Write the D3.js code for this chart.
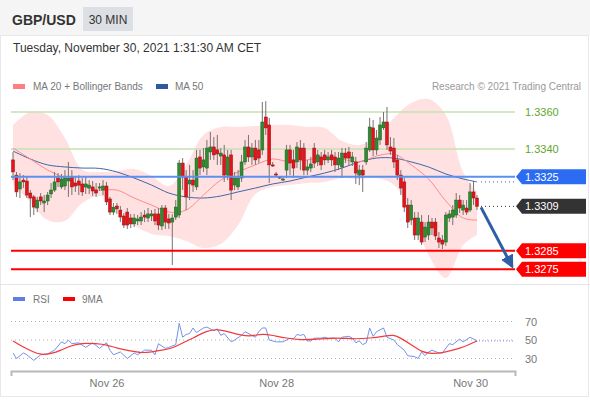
<!DOCTYPE html>
<html>
<head>
<meta charset="utf-8">
<script src="https://cdn.jsdelivr.net/npm/d3@7"></script>
<style>
  body { margin: 0; background: #fff; }
  svg { display: block; font-family: "Liberation Sans", Arial, sans-serif; }
</style>
</head>
<body>
<svg id="chart" width="590" height="400"></svg>
<script>
// 30 min candles, [open, high, low, close]
const ohlc = [
  [1.33341,1.33384,1.33232,1.33276],[1.33259,1.33276,1.33141,1.33168],[1.33184,1.3327,1.33135,1.33222],
  [1.33232,1.33259,1.33189,1.33222],[1.33227,1.33254,1.33135,1.33151],[1.33162,1.33178,1.33032,1.33135],
  [1.33141,1.33151,1.33043,1.33086],[1.33081,1.33141,1.33059,1.33124],[1.33141,1.33162,1.33097,1.33119],
  [1.33108,1.33151,1.33059,1.33119],[1.33119,1.33168,1.33097,1.33151],[1.33157,1.33216,1.33135,1.33178],
  [1.33178,1.33276,1.33168,1.33222],[1.33243,1.3327,1.33195,1.33222],[1.33195,1.33265,1.33184,1.33238],
  [1.3320,1.33286,1.33178,1.33243],[1.33227,1.3333,1.33141,1.33243],[1.33249,1.33286,1.33151,1.33195],
  [1.33216,1.33254,1.33168,1.3320],[1.33227,1.33259,1.33151,1.33205],[1.33211,1.33243,1.33146,1.33168],
  [1.33195,1.33249,1.33157,1.33211],[1.33189,1.33232,1.33157,1.33205],[1.33195,1.33227,1.33146,1.33173],
  [1.33178,1.33216,1.33141,1.33162],[1.33189,1.33216,1.33173,1.33195],[1.33178,1.33232,1.33151,1.3320],
  [1.3320,1.33222,1.33097,1.33114],[1.3313,1.33141,1.33043,1.33059],[1.33059,1.33108,1.33043,1.33086],
  [1.33092,1.33108,1.33049,1.33076],[1.3307,1.33092,1.33005,1.33032],[1.33038,1.33054,1.32973,1.32989],
  [1.33059,1.33081,1.32968,1.32989],[1.33027,1.33049,1.32973,1.32995],[1.32995,1.33049,1.32978,1.33027],
  [1.33011,1.33043,1.32989,1.33022],[1.33011,1.33059,1.32989,1.33032],[1.33043,1.3307,1.33005,1.33032],
  [1.33027,1.33081,1.33005,1.33049],[1.33038,1.3307,1.33011,1.33049],[1.33049,1.33076,1.32989,1.33011],
  [1.33049,1.33081,1.32962,1.32989],[1.32984,1.33097,1.32962,1.33081],[1.33081,1.33097,1.32968,1.33005],
  [1.33022,1.33049,1.32968,1.3300],[1.33005,1.33049,1.32773,1.33027],[1.33032,1.33124,1.33016,1.33086],
  [1.33043,1.33341,1.33027,1.33324],[1.33324,1.33351,1.33178,1.33249],[1.33249,1.33286,1.3307,1.33141],
  [1.33211,1.33314,1.33124,1.33232],[1.33232,1.33286,1.33168,1.33205],[1.33195,1.33395,1.33178,1.33351],
  [1.33357,1.33395,1.33259,1.33297],[1.33303,1.33405,1.33276,1.33341],[1.33297,1.33449,1.33259,1.33405],
  [1.33384,1.33492,1.33341,1.33411],[1.33411,1.33465,1.33341,1.33368],[1.33395,1.33476,1.33314,1.33373],
  [1.33362,1.33405,1.33314,1.33378],[1.33368,1.33422,1.33222,1.33259],[1.33259,1.33395,1.33232,1.33357],
  [1.33368,1.33395,1.33124,1.33178],[1.33205,1.33276,1.33178,1.33243],[1.33195,1.33286,1.33178,1.33243],
  [1.33243,1.33368,1.33222,1.3333],[1.3333,1.33449,1.33314,1.33411],[1.33411,1.33476,1.3333,1.33357],
  [1.33357,1.33432,1.33314,1.33405],[1.33405,1.33449,1.33314,1.33341],[1.33395,1.33449,1.33324,1.33351],
  [1.33395,1.33654,1.33368,1.33546],[1.33573,1.33659,1.33476,1.33514],[1.3353,1.33568,1.33216,1.33314],
  [1.33314,1.3333,1.33303,1.33308],[1.33265,1.33276,1.33254,1.33259],[1.33249,1.33254,1.33238,1.33243],
  [1.33232,1.33243,1.33227,1.33238],[1.33286,1.33422,1.33243,1.33395],[1.33395,1.33422,1.33259,1.33324],
  [1.33341,1.33395,1.33243,1.33297],[1.3333,1.33438,1.33297,1.33411],[1.33405,1.33449,1.33286,1.33341],
  [1.33405,1.33432,1.33259,1.33286],[1.33286,1.33341,1.33259,1.33303],[1.33297,1.33357,1.33276,1.33319],
  [1.33405,1.33432,1.33297,1.33324],[1.3333,1.33395,1.33308,1.33368],[1.33357,1.33384,1.33286,1.33314],
  [1.33368,1.33395,1.33314,1.33341],[1.33341,1.33384,1.33324,1.33357],[1.33368,1.33395,1.33308,1.33341],
  [1.33357,1.33384,1.33276,1.33314],[1.33314,1.33384,1.33286,1.33351],[1.33303,1.33405,1.33243,1.33378],
  [1.33378,1.33405,1.33324,1.33351],[1.33384,1.33411,1.33314,1.33351],[1.3333,1.33384,1.33308,1.33357],
  [1.3333,1.33357,1.33211,1.3327],[1.33259,1.33314,1.33205,1.33286],[1.33286,1.33314,1.33168,1.33259],
  [1.3333,1.33438,1.33314,1.33405],[1.33395,1.33568,1.33384,1.33519],[1.33514,1.33557,1.33362,1.33395],
  [1.33395,1.33503,1.33368,1.33459],[1.33449,1.33573,1.33422,1.3353],[1.33514,1.3360,1.33503,1.33546],
  [1.33546,1.33627,1.33395,1.33422],[1.33411,1.33465,1.33368,1.33389],[1.33405,1.33459,1.33297,1.3333],
  [1.33341,1.33368,1.33232,1.33259],[1.33259,1.33286,1.33151,1.33189],[1.33222,1.33243,1.33059,1.33086],
  [1.33097,1.33135,1.32973,1.33005],[1.33016,1.33124,1.32989,1.33097],[1.33027,1.33059,1.32908,1.32935],
  [1.32935,1.33059,1.32908,1.33027],[1.33005,1.33043,1.32881,1.32897],[1.32924,1.33005,1.32897,1.32978],
  [1.32935,1.33043,1.32908,1.33005],[1.33005,1.33027,1.32935,1.32973],[1.33005,1.33027,1.32908,1.3293],
  [1.32919,1.32951,1.32865,1.32897],[1.32908,1.32935,1.32859,1.32886],[1.32897,1.33059,1.32876,1.33043],
  [1.33027,1.3307,1.33005,1.33049],[1.33032,1.33097,1.32989,1.3307],[1.33043,1.33162,1.33027,1.33124],
  [1.33124,1.33151,1.33054,1.33081],[1.3307,1.33124,1.33043,1.33097],[1.33081,1.33124,1.33043,1.33059],
  [1.3307,1.33216,1.33059,1.33168],[1.33168,1.33227,1.33097,1.33135],[1.33135,1.33151,1.3307,1.3309]
];

// indicator samples (candle index -> value)
const maIdx = [0,5,10,15,20,25,30,35,40,45,50,55,60,65,70,75,80,85,90,95,100,105,110,115,120,125,130,134];
const ma20 = [1.33405,1.33346,1.33286,1.33243,1.3320,1.33178,1.33178,1.33135,1.33097,1.33059,1.3307,1.33151,1.33232,1.33276,
  1.33314,1.33346,1.3333,1.33341,1.33357,1.33346,1.3333,1.33362,1.33373,1.33314,1.33238,1.33119,1.33027,1.33016];
const ma50 = [1.33389,1.33346,1.33314,1.33303,1.33297,1.33295,1.33276,1.33243,1.33205,1.33162,1.33141,1.33135,1.33146,1.33168,
  1.33189,1.33211,1.33227,1.33249,1.3327,1.33297,1.3333,1.33351,1.33351,1.3333,1.33303,1.33265,1.33238,1.33222];
const bbUpper = [1.3353,1.3360,1.33584,1.33459,1.33286,1.33276,1.33281,1.33292,1.33254,1.3320,1.33314,1.33476,1.33519,1.33519,
  1.33524,1.3353,1.3353,1.33519,1.33514,1.33443,1.33422,1.33465,1.33568,1.33649,1.3367,1.33584,1.33276,1.33168];
const bbLower = [1.33205,1.33114,1.33016,1.33011,1.33108,1.33146,1.33097,1.32989,1.32941,1.3293,1.32903,1.32865,1.32886,1.32989,
  1.33157,1.33195,1.33205,1.33216,1.33222,1.33243,1.33238,1.33243,1.33205,1.33059,1.32827,1.32703,1.32881,1.32935];

const rsi = [[0,36],[1,30],[3,36],[4,34],[6,28],[8,34],[10,35],[12,39],[14,48],[15,46],[16,50],[17,46],[19,47],[21,42],
  [23,47],[25,41],[27,47],[28,39],[29,34],[31,37],[33,30],[35,36],[36,34],[38,39],[40,39],[41,34],[42,46],[44,41],[45,42],
  [47,45],[48,68],[49,53],[50,56],[51,57],[52,63],[53,58],[55,63],[56,64],[58,60],[59,62],[60,55],[61,57],[63,48],[64,50],
  [66,55],[67,59],[69,55],[70,53],[71,59],[72,63],[73,63],[74,50],[76,48],[78,48],[80,52],[81,51],[82,56],[83,55],[84,56],
  [85,49],[86,49],[87,52],[89,52],[90,53],[91,52],[93,52],[94,48],[95,53],[97,54],[98,52],[99,47],[100,49],[101,45],[102,47],
  [103,63],[104,54],[105,59],[107,63],[108,53],[110,50],[111,45],[113,39],[114,33],[116,32],[117,30],[118,37],[119,33],
  [120,37],[121,39],[123,36],[124,36],[126,46],[127,45],[129,51],[130,48],[132,53],[134,49]];
const rsiMA = [[0,49],[3,42],[6,37],[8,34],[11,35],[14,39],[16,43],[20,47],[24,46],[27,45],[30,41],[34,38],[37,36],[40,37],
  [43,39],[46,41],[49,47],[52,52],[56,60],[59,62],[63,58],[66,55],[69,54],[72,57],[75,55],[79,52],[83,50],[88,51],[92,52],
  [95,52],[99,51],[103,52],[107,54],[110,56],[112,52],[115,45],[118,37],[121,35],[124,36],[127,39],[130,42],[134,49]];

const resistances = [1.3360, 1.3340];
const pivot = 1.3325;
const supports = [1.3285, 1.3275];
const rsiLevels = [70, 50, 30];
const tickIdx = [27, 76, 132];
const tickLabels = ["Nov 26", "Nov 28", "Nov 30"];

const svg = d3.select("#chart");
const left = 11, right = 515;

const x = d3.scaleLinear().domain([0, ohlc.length - 1]).range([13, 477]);
const y = d3.scaleLinear().domain([1.3275, 1.3360]).range([269.25, 112]);
const yR = d3.scaleLinear().domain([30, 70]).range([358.5, 321.5]);
const fmt = d3.format(".4f");

// header
svg.append("rect").attr("x", 0).attr("y", 0).attr("width", 590).attr("height", 35).attr("fill", "#f5f5f5");
svg.append("rect").attr("x", 0.5).attr("y", 35.5).attr("width", 588).attr("height", 361)
  .attr("fill", "none").attr("stroke", "#e8e8e8");
svg.append("text").attr("x", 12).attr("y", 24.5).attr("font-size", 14).attr("font-weight", "bold")
  .attr("fill", "#333").text("GBP/USD");
svg.append("rect").attr("x", 83).attr("y", 7).attr("width", 50).attr("height", 24).attr("fill", "#dcdfe4");
svg.append("text").attr("x", 108).attr("y", 23.5).attr("font-size", 12).attr("text-anchor", "middle")
  .attr("fill", "#333").text("30 MIN");
svg.append("text").attr("x", 13).attr("y", 51.5).attr("font-size", 12).attr("fill", "#333")
  .text("Tuesday, November 30, 2021 1:31:30 AM CET");

// legend
svg.append("rect").attr("x", 13).attr("y", 84).attr("width", 12).attr("height", 5).attr("fill", "#ff7f7f");
svg.append("text").attr("x", 33).attr("y", 90).attr("font-size", 10).attr("fill", "#777").text("MA 20 + Bollinger Bands");
svg.append("rect").attr("x", 156).attr("y", 84).attr("width", 12).attr("height", 5).attr("fill", "#2e5b9e");
svg.append("text").attr("x", 175).attr("y", 90).attr("font-size", 10).attr("fill", "#777").text("MA 50");
svg.append("text").attr("x", 581).attr("y", 90).attr("font-size", 10).attr("fill", "#999")
  .attr("text-anchor", "end").text("Research \u00a9 2021 Trading Central");

// bollinger band
const band = d3.area()
  .x((d, i) => x(maIdx[i]))
  .y0((d, i) => y(bbLower[i]))
  .y1((d, i) => y(bbUpper[i]))
  .curve(d3.curveCatmullRom);
svg.append("path").datum(maIdx).attr("d", band).attr("fill", "#ffe1e1");

// level lines
svg.selectAll(".res").data(resistances).enter().append("line")
  .attr("x1", left).attr("x2", right).attr("y1", d => y(d)).attr("y2", d => y(d))
  .attr("stroke", "#c6e0b0").attr("stroke-width", 1.5);
svg.selectAll(".resl").data(resistances).enter().append("text")
  .attr("x", 525).attr("y", d => y(d) + 4).attr("font-size", 11).attr("fill", "#5fa52e").text(fmt);

const maLine = arr => d3.line().x((d, i) => x(maIdx[i])).y((d, i) => y(arr[i])).curve(d3.curveCatmullRom);
svg.append("path").datum(ma50).attr("d", maLine(ma50)).attr("fill", "none").attr("stroke", "#3f66ab").attr("stroke-width", 1);
svg.append("path").datum(ma20).attr("d", maLine(ma20)).attr("fill", "none").attr("stroke", "#ff8a8a").attr("stroke-width", 1);

// candles
const last = ohlc.length - 1;
const g = svg.append("g");
g.selectAll("line").data(ohlc).enter().append("line")
  .attr("x1", (d, i) => x(i)).attr("x2", (d, i) => x(i))
  .attr("y1", d => y(d[1])).attr("y2", d => y(d[2]))
  .attr("stroke", "#7a7070").attr("stroke-width", 1);
g.selectAll("rect").data(ohlc).enter().append("rect")
  .attr("x", (d, i) => x(i) - 1.5).attr("width", 3)
  .attr("y", d => Math.min(y(d[0]), y(d[3])))
  .attr("height", d => Math.max(1, Math.abs(y(d[0]) - y(d[3]))))
  .attr("fill", d => d[3] >= d[0] ? "#2e8b30" : "#e3141b")
  .attr("stroke", d => d[3] >= d[0] ? "#1f5e20" : "#9a1010").attr("stroke-width", 0.5);

// pivot and supports
svg.append("line").attr("x1", left).attr("x2", right).attr("y1", y(pivot)).attr("y2", y(pivot))
  .attr("stroke", "#5b8ff0").attr("stroke-width", 2);
svg.selectAll(".sup").data(supports).enter().append("line")
  .attr("x1", left).attr("x2", right).attr("y1", d => y(d)).attr("y2", d => y(d))
  .attr("stroke", "#ff0000").attr("stroke-width", 2);

// dotted extensions
svg.append("line").attr("x1", x(last) + 4).attr("x2", right).attr("y1", y(ma50[ma50.length - 1])).attr("y2", y(ma50[ma50.length - 1]))
  .attr("stroke", "#3f66ab").attr("stroke-dasharray", "1,3");
svg.append("line").attr("x1", x(last) + 4).attr("x2", right).attr("y1", y(ohlc[last][3])).attr("y2", y(ohlc[last][3]))
  .attr("stroke", "#333").attr("stroke-dasharray", "1,3");

// forecast arrow
svg.append("defs").append("marker").attr("id", "head").attr("viewBox", "0 -5 10 10")
  .attr("refX", 8).attr("refY", 0).attr("markerWidth", 4.5).attr("markerHeight", 4.5).attr("orient", "auto")
  .append("path").attr("d", "M0,-5L10,0L0,5Z").attr("fill", "#2d5fa6");
svg.append("line").attr("x1", x(last) + 4).attr("y1", y(ohlc[last][3]) + 1)
  .attr("x2", right - 3).attr("y2", y(supports[1]) - 3)
  .attr("stroke", "#2d5fa6").attr("stroke-width", 3).attr("marker-end", "url(#head)");

// price tags
const tag = (v, col) => {
  const cy = y(v);
  svg.append("path").attr("d", `M516,${cy}L522,${cy - 7.5}L586,${cy - 7.5}L586,${cy + 7.5}L522,${cy + 7.5}Z`).attr("fill", col);
  svg.append("text").attr("x", 525).attr("y", cy + 4).attr("font-size", 11).attr("fill", "#fff").text(fmt(v));
};
tag(pivot, "#2b6cf3");
tag(ohlc[last][3], "#333");
supports.forEach(v => tag(v, "#ff0000"));

// panel separator
svg.append("line").attr("x1", 0).attr("x2", 590).attr("y1", 284.5).attr("y2", 284.5).attr("stroke", "#e4e4e4");

// RSI panel
svg.append("rect").attr("x", 13).attr("y", 297).attr("width", 12).attr("height", 4).attr("fill", "#5b7fe6");
svg.append("text").attr("x", 33).attr("y", 302.5).attr("font-size", 10).attr("fill", "#777").text("RSI");
svg.append("rect").attr("x", 63).attr("y", 297).attr("width", 12).attr("height", 4).attr("fill", "#ff0000");
svg.append("text").attr("x", 82).attr("y", 302.5).attr("font-size", 10).attr("fill", "#777").text("9MA");

svg.selectAll(".rg").data(rsiLevels).enter().append("line")
  .attr("x1", left).attr("x2", right).attr("y1", d => yR(d)).attr("y2", d => yR(d))
  .attr("stroke", "#b5b5b5").attr("stroke-dasharray", "1,3");
svg.selectAll(".rl").data(rsiLevels).enter().append("text")
  .attr("x", 525).attr("y", d => yR(d) + 4).attr("font-size", 11).attr("fill", "#777").text(d => d);

const rsiLine = d3.line().x(d => x(d[0])).y(d => yR(d[1]));
svg.append("path").datum(rsi).attr("d", rsiLine).attr("fill", "none").attr("stroke", "#7591ea").attr("stroke-width", 1);
svg.append("path").datum(rsiMA).attr("d", rsiLine.curve(d3.curveBasis)).attr("fill", "none")
  .attr("stroke", "#f23a3a").attr("stroke-width", 1.2);
svg.append("line").attr("x1", x(last) + 2).attr("x2", right)
  .attr("y1", yR(rsi[rsi.length - 1][1])).attr("y2", yR(rsi[rsi.length - 1][1]))
  .attr("stroke", "#7591ea").attr("stroke-dasharray", "1,2");

// time axis
const xAxisScale = x.copy().domain([x.invert(left), x.invert(right)]).range([left, right]);
const ax = svg.append("g").attr("transform", "translate(0,371)")
  .call(d3.axisBottom(xAxisScale).tickValues(tickIdx).tickFormat((d, i) => tickLabels[i])
    .tickSizeInner(0).tickSizeOuter(5).tickPadding(8));
ax.select(".domain").attr("stroke", "#b8b8b8").attr("stroke-width", 2);
ax.selectAll("text").attr("font-size", 11).attr("fill", "#777").attr("font-family", "Liberation Sans, Arial, sans-serif");
</script>
</body>
</html>
